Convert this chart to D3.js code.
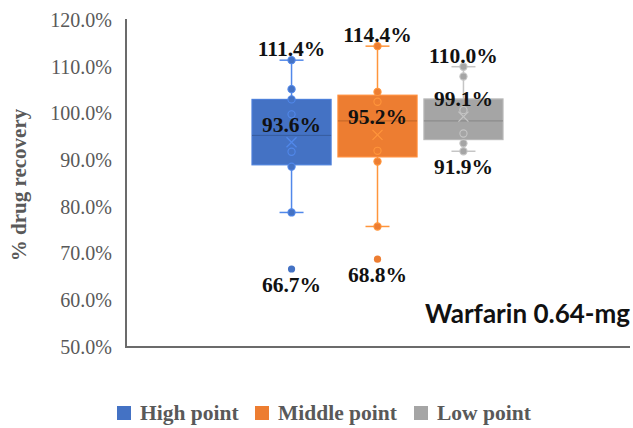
<!DOCTYPE html>
<html><head><meta charset="utf-8">
<script src="https://cdn.jsdelivr.net/npm/d3@7"></script>
<style>html,body{margin:0;padding:0;background:#fff;}svg{display:block;}</style>
</head><body>
<svg id="chart" width="633" height="428"></svg>
<script>
const series = ["High point", "Middle point", "Low point"];
const colors = ["#4472C4", "#ED7D31", "#A5A5A5"];
const q1 = [89.0, 90.7, 94.4];
const medians = [95.3, 98.4, 98.4];
const q3 = [103.0, 103.9, 103.1];
const whiskerLow = [78.8, 75.8, 91.9];
const whiskerHigh = [111.4, 114.4, 110.0];
const means = [93.6, 95.2, 99.1];
const outliers = [[66.7], [68.8], []];
const innerPoints = [
  [111.4, 105.2, 103.0, 99.8, 91.8, 88.6, 78.8],
  [114.4, 104.6, 102.5, 92.0, 89.7, 75.8],
  [110.0, 107.9, 100.7, 95.7, 93.6, 91.9]
];
const maxLabels = ["111.4%", "114.4%", "110.0%"];
const meanLabels = ["93.6%", "95.2%", "99.1%"];
const minLabels = ["66.7%", "68.8%", "91.9%"];
const yTicks = [50, 60, 70, 80, 90, 100, 110, 120];
const yTitle = "% drug recovery";
const note = "Warfarin 0.64-mg";

const svg = d3.select("#chart");
const y = d3.scaleLinear().domain([50, 120]).range([347, 20]);
const x = d3.scaleBand().domain(series).range([252, 503]).paddingInner(0.08).paddingOuter(0);
const axisColor = "#6b6b6b";
const textGray = "#595959";
const serif = "'Liberation Serif', 'Times New Roman', serif";

// y axis
const yAxis = d3.axisLeft(y).tickValues(yTicks).tickSize(0).tickPadding(14)
  .tickFormat(d => d.toFixed(1) + "%");
const gy = svg.append("g").attr("transform", "translate(126,0)").call(yAxis);
gy.select(".domain").remove();
gy.selectAll("text").attr("font-family", serif).attr("font-size", 20).attr("fill", textGray);

svg.append("line").attr("x1", 126).attr("x2", 126).attr("y1", 19).attr("y2", y(50))
  .attr("stroke", axisColor).attr("stroke-width", 2);
svg.append("line").attr("x1", 125).attr("x2", 630).attr("y1", y(50)).attr("y2", y(50))
  .attr("stroke", axisColor).attr("stroke-width", 2);

svg.append("text").attr("transform", `translate(26,185) rotate(-90)`)
  .attr("text-anchor", "middle").attr("font-family", serif).attr("font-weight", "bold")
  .attr("font-size", 21).attr("fill", textGray).text(yTitle);

series.forEach((s, i) => {
  const c = d3.color(colors[i]);
  const light = c.brighter(0.5).formatHex();
  const dark = c.darker(0.6).formatHex();
  const x0 = x(s), bw = x.bandwidth(), cx = x0 + bw / 2;
  const g = svg.append("g");
  // whiskers
  g.append("line").attr("x1", cx).attr("x2", cx).attr("y1", y(whiskerHigh[i])).attr("y2", y(q3[i]))
    .attr("stroke", light).attr("stroke-width", 1.5);
  g.append("line").attr("x1", cx).attr("x2", cx).attr("y1", y(q1[i])).attr("y2", y(whiskerLow[i]))
    .attr("stroke", light).attr("stroke-width", 1.5);
  [whiskerHigh[i], whiskerLow[i]].forEach(v => {
    g.append("line").attr("x1", cx - 12).attr("x2", cx + 12).attr("y1", y(v)).attr("y2", y(v))
      .attr("stroke", light).attr("stroke-width", 1.5);
  });
  // box
  g.append("rect").attr("x", x0).attr("y", y(q3[i])).attr("width", bw)
    .attr("height", y(q1[i]) - y(q3[i])).attr("fill", colors[i])
    .attr("stroke", c.brighter(0.3).formatHex()).attr("stroke-width", 1.2);
  g.append("line").attr("x1", x0).attr("x2", x0 + bw).attr("y1", y(medians[i])).attr("y2", y(medians[i]))
    .attr("stroke", dark).attr("stroke-width", 1);
  // inner points
  innerPoints[i].forEach(v => {
    g.append("circle").attr("cx", cx).attr("cy", y(v)).attr("r", 3.6)
      .attr("fill", colors[i]).attr("stroke", light).attr("stroke-width", 1.1);
  });
  outliers[i].forEach(v => {
    g.append("circle").attr("cx", cx).attr("cy", y(v)).attr("r", 3.6)
      .attr("fill", colors[i]).attr("stroke", "none");
  });
  // mean X
  const my = y(means[i]) - 1;
  g.append("path").attr("d", `M${cx-5},${my-5}L${cx+5},${my+5}M${cx+5},${my-5}L${cx-5},${my+5}`)
    .attr("stroke", light).attr("stroke-width", 1.3).attr("fill", "none");
  // labels
  const lbl = (t, yy) => g.append("text").attr("x", cx).attr("y", yy).attr("text-anchor", "middle")
    .attr("font-family", serif).attr("font-weight", "bold").attr("font-size", 21.5).attr("fill", "#111").text(t);
  lbl(maxLabels[i], y(whiskerHigh[i]) - 4);
  lbl(meanLabels[i], y(means[i]) - 11.5);
  const lowV = outliers[i].length ? outliers[i][0] : whiskerLow[i];
  lbl(minLabels[i], y(lowV) + 23);
});

svg.append("text").attr("x", 630).attr("y", 323).attr("text-anchor", "end")
  .attr("font-family", "Lato, 'Open Sans', sans-serif").attr("font-weight", "bold")
  .attr("font-size", 26).attr("fill", "#111").text(note);

// legend
const legendX = [117, 255, 414];
series.forEach((s, i) => {
  svg.append("rect").attr("x", legendX[i]).attr("y", 406).attr("width", 14).attr("height", 14)
    .attr("fill", colors[i]);
  svg.append("text").attr("x", legendX[i] + 23).attr("y", 420).attr("font-family", serif)
    .attr("font-weight", "bold").attr("font-size", 21.5).attr("fill", textGray).text(s);
});
</script>
</body></html>
